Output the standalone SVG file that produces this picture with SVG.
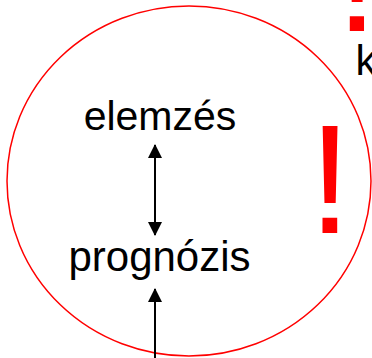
<svg xmlns="http://www.w3.org/2000/svg" width="372" height="358" viewBox="0 0 372 358">
<style>
.lbl{font-family:"Liberation Sans",Arial,sans-serif;fill:#000;text-anchor:middle}
.bang{font-family:"Liberation Sans",Arial,sans-serif;fill:#ff0000;text-anchor:middle}
.conn{stroke:#000;stroke-width:2;fill:none}
</style>
<defs>
<marker id="ah" viewBox="0 0 14 14" markerWidth="14" markerHeight="14" refX="13" refY="7" orient="auto-start-reverse" markerUnits="userSpaceOnUse">
<path d="M0,0 L14,7 L0,14 Z" fill="#000"/>
</marker>
</defs>
<rect width="372" height="358" fill="#fff"/>
<g id="circle">
<ellipse cx="189" cy="181" rx="182" ry="175" fill="none" stroke="#ff0000" stroke-width="1.5"/>
</g>
<g id="elemzes"><text class="lbl" x="160" y="129.5" font-size="41">elemzés</text></g>
<g id="prognozis"><text class="lbl" x="159.5" y="271" font-size="42">prognózis</text></g>
<g id="bang-top"><text class="bang" x="357" y="31" font-size="150">!</text></g>
<g id="bang-big"><text class="bang" x="330" y="233" font-size="155">!</text></g>
<g id="k-text"><text class="lbl" x="355.5" y="74.5" font-size="42" style="text-anchor:start">k</text></g>
<g id="connectors">
<line class="conn" x1="155" y1="145" x2="155" y2="235" marker-start="url(#ah)" marker-end="url(#ah)"/>
<line class="conn" x1="155" y1="358" x2="155" y2="289" marker-end="url(#ah)"/>
</g>
</svg>
